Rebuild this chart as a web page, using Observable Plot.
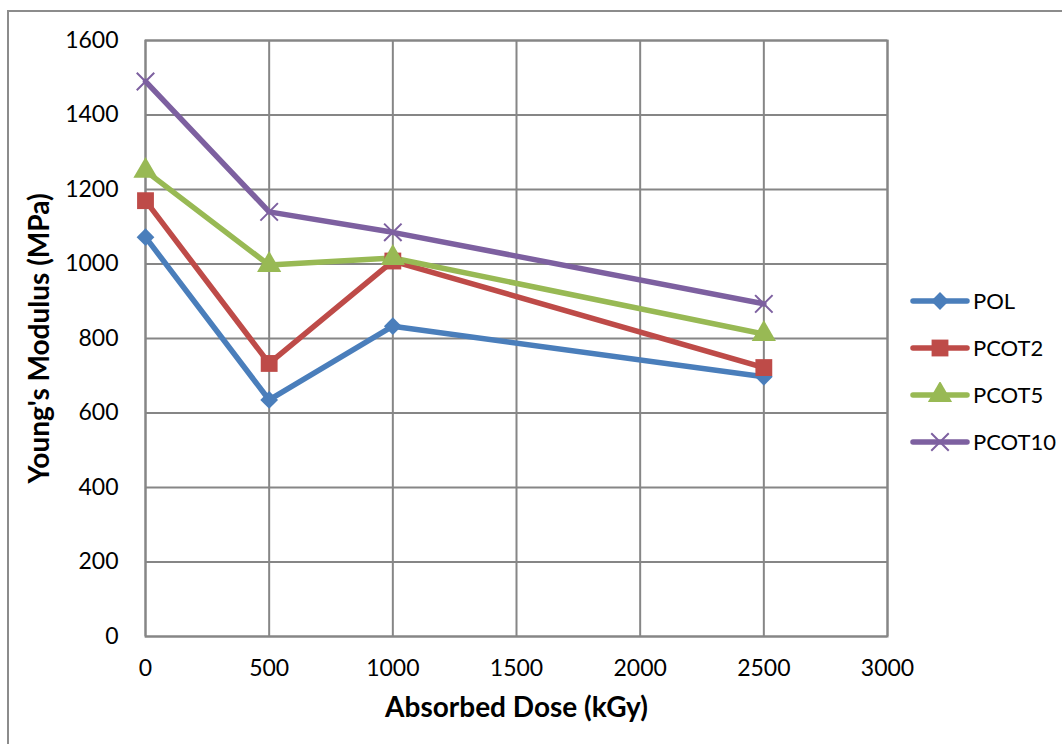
<!DOCTYPE html>
<html>
<head>
<meta charset="utf-8">
<script src="https://cdn.jsdelivr.net/npm/d3@7"></script>
<script src="https://cdn.jsdelivr.net/npm/@observablehq/plot@0.6"></script>
<style>
  html, body { margin: 0; padding: 0; background: #fff; overflow: hidden; }
  #wrap { position: relative; width: 1062px; height: 744px; }
  #border { position: absolute; left: 7px; top: 10px; width: 1100px; height: 800px; border: 2px solid #8c8c8c; box-sizing: border-box; }
  #chart { position: absolute; left: 0; top: 0; }
  #legend { position: absolute; left: 910px; top: 277px; font-family: Lato, "Open Sans", sans-serif; font-size: 22px; color: #000; }
  .item { display: flex; align-items: center; height: 47px; }
  .item svg { margin-right: 3px; }
</style>
</head>
<body>
<div id="wrap">
  <div id="border"></div>
  <div id="chart"></div>
  <div id="legend"></div>
</div>
<script>
const doses = [0, 500, 1000, 2500];
const seriesNames = ["POL", "PCOT2", "PCOT5", "PCOT10"];
const pol    = [1072, 635, 833, 697];
const pcot2  = [1170, 733, 1008, 722];
const pcot5  = [1250, 997, 1016, 812];
const pcot10 = [1490, 1140, 1085, 893];
const colors = ["#4a7ebb", "#be4b48", "#98b954", "#7d60a0"];
const symbols = ["diamond2", "square", "triangle", "times"];
const xTicks = [0, 500, 1000, 1500, 2000, 2500, 3000];
const yTicks = [0, 200, 400, 600, 800, 1000, 1200, 1400, 1600];
const xTitle = "Absorbed Dose (kGy)";
const yTitle = "Young's Modulus (MPa)";

const valuesBySeries = [pol, pcot2, pcot5, pcot10];
const rows = [];
seriesNames.forEach((s, i) => doses.forEach((d, j) => rows.push({series: s, dose: d, value: valuesBySeries[i][j]})));

const font = 'Lato, "Open Sans", sans-serif';
const fmt = d3.format("d");

const chart = Plot.plot({
  width: 1062,
  height: 744,
  marginLeft: 145,
  marginRight: 175,
  marginTop: 40,
  marginBottom: 108,
  style: {fontFamily: font, fontSize: "23px", color: "#000", background: "transparent", overflow: "visible"},
  x: {domain: [0, 3000], ticks: xTicks, label: null},
  y: {domain: [0, 1600], ticks: yTicks, label: null},
  color: {domain: seriesNames, range: colors},
  symbol: {domain: seriesNames, range: symbols},
  marks: [
    Plot.gridX(xTicks, {stroke: "#868686", strokeOpacity: 1, strokeWidth: 2}),
    Plot.gridY(yTicks, {stroke: "#868686", strokeOpacity: 1, strokeWidth: 2}),
    Plot.frame({stroke: "#868686", strokeWidth: 2}),
    Plot.axisX(xTicks, {tickSize: 0, tickPadding: 23, fontSize: 23, tickFormat: fmt, label: null}),
    Plot.axisY(yTicks, {tickSize: 0, tickPadding: 27, fontSize: 23, tickFormat: fmt, label: null}),
    Plot.line(rows, {x: "dose", y: "value", z: "series", stroke: "series", strokeWidth: 5.5, strokeLinejoin: "round", strokeLinecap: "round"}),
    Plot.dot(rows.filter(d => d.series === "POL"), {x: "dose", y: "value", symbol: "series", fill: "series", stroke: "none", r: 8}),
    Plot.dot(rows.filter(d => d.series === "PCOT2"), {x: "dose", y: "value", symbol: "series", fill: "series", stroke: "none", r: 9.5}),
    Plot.dot(rows.filter(d => d.series === "PCOT5"), {x: "dose", y: "value", symbol: "series", fill: "series", stroke: "none", r: 9}),
    Plot.dot(rows.filter(d => d.series === "PCOT10"), {x: "dose", y: "value", symbol: "series", stroke: "series", strokeWidth: 2, r: 8}),
    Plot.text([xTitle], {frameAnchor: "bottom", dy: 80, fontSize: 28, fontWeight: "bold", fill: "#000", textAnchor: "middle"}),
    Plot.text([yTitle], {frameAnchor: "left", rotate: -90, dx: -105, fontSize: 28, fontWeight: "bold", fill: "#000", textAnchor: "middle"})
  ]
});
document.getElementById("chart").appendChild(chart);

// legend
const legend = d3.select("#legend");
const symMap = {diamond2: d3.symbolDiamond2, square: d3.symbolSquare, triangle: d3.symbolTriangle, times: d3.symbolTimes};
const legendR = [8, 9.5, 9, 8];
seriesNames.forEach((s, i) => {
  const item = legend.append("div").attr("class", "item");
  const svg = item.append("svg").attr("width", 60).attr("height", 26);
  svg.append("line").attr("x1", 3).attr("x2", 57).attr("y1", 13).attr("y2", 13)
    .attr("stroke", colors[i]).attr("stroke-width", 5.5).attr("stroke-linecap", "round");
  const r = legendR[i];
  const path = d3.symbol(symMap[symbols[i]], Math.PI * r * r)();
  const p = svg.append("path").attr("d", path).attr("transform", "translate(30,13)");
  if (i === 3) p.attr("fill", "none").attr("stroke", colors[i]).attr("stroke-width", 2);
  else p.attr("fill", colors[i]);
  item.append("span").text(s);
});
</script>
</body>
</html>
